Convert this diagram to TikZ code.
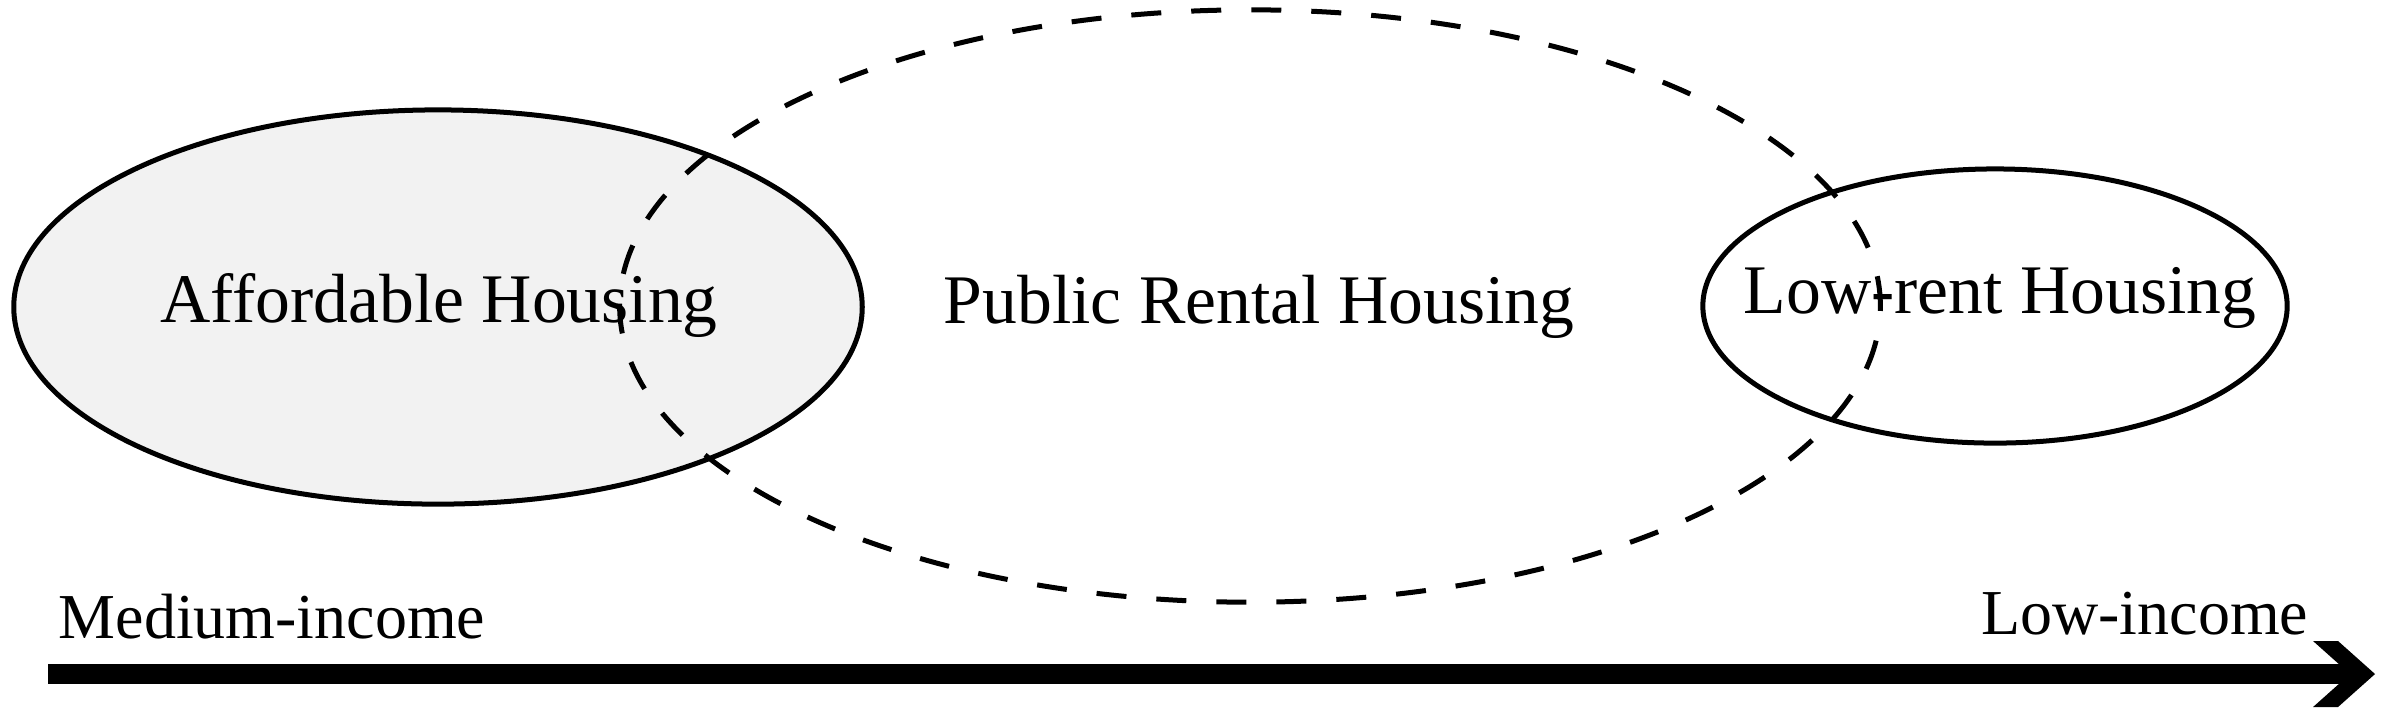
\documentclass[tikz,border=0pt]{standalone}
\usepackage{fontspec}
\setmainfont{Liberation Serif}
\usepackage{tikz}
\usetikzlibrary{calc}
\tikzset{
	housing/.style={font=\fontsize{19.8}{23}\selectfont, inner sep=0pt, anchor=base},
	income/.style={font=\fontsize{18.2}{22}\selectfont, inner sep=0pt},
	ring/.style={line width=0.05cm},
}

\begin{document}
\begin{tikzpicture}[x=0.01cm, y=-0.01cm]
			%%%%% START %%%%%
			\useasboundingbox (0, 0) rectangle (2386, 717);
			
			\draw[ring, fill=black!5] (438, 307) ellipse [x radius=4.24cm, y radius=1.97cm];
			\draw[ring] (1995, 306) ellipse [x radius=2.92cm, y radius=1.37cm];
			
			\node[housing] (afford) at (439, 322) {Affordable Housing};
			\node[housing] (public) at (1259, 323) {Public Rental Housing};
			\node[housing] (lowrent) at (2000, 313) {Low-rent Housing};
			
			\draw[line width=0.05cm, dash pattern=on 0.3cm off 0.3cm] (1250, 306) ellipse [x radius=6.3cm, y radius=2.96cm];
			
			\node[income, anchor=base west] (medium) at (58, 638) {Medium-income};
			\node[income, anchor=base east] (low) at (2309, 634) {Low-income};
			
			\coordinate (axisstart) at (48, 674);
			\coordinate (axisend) at (2350, 674);
			\draw[line width=0.2cm] (axisstart) -- (axisend);
			\fill[shift={(axisend)}] (-37, -33) -- (-12, -33) -- (25, 0) -- (-12, 33) -- (-37, 33) -- (0, 0) -- cycle;
			
			%%%%% END %%%%%
		\end{tikzpicture}
\end{document}
